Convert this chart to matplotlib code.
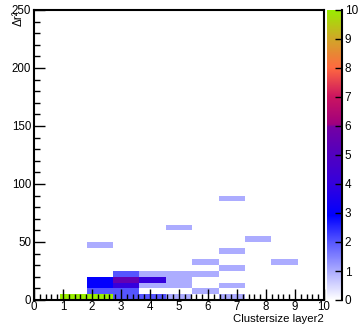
import numpy as np
import matplotlib
matplotlib.use("Agg")
import matplotlib.pyplot as plt
from matplotlib.colors import LinearSegmentedColormap
from matplotlib.ticker import MultipleLocator

plt.rcParams['font.family'] = ['Liberation Sans', 'DejaVu Sans']

# data: cluster size (layer2), delta r^2 (bin centre), entries
cluster = [1, 2, 3, 4, 5, 7,
           2, 3, 6,
           2, 3, 4, 5, 7,
           2, 3, 4, 5,
           3, 4, 5, 6,
           7,
           6, 9,
           7,
           2,
           8,
           5,
           7]
dr2 = [2.5, 2.5, 2.5, 2.5, 2.5, 2.5,
       7.5, 7.5, 7.5,
       12.5, 12.5, 12.5, 12.5, 12.5,
       17.5, 17.5, 17.5, 17.5,
       22.5, 22.5, 22.5, 22.5,
       27.5,
       32.5, 32.5,
       42.5,
       47.5,
       52.5,
       62.5,
       87.5]
counts = [10, 10, 2, 2, 1, 1,
          2, 2, 1,
          3, 4, 1, 1, 1,
          3, 5.5, 4, 1,
          2, 1, 1, 1,
          1,
          1, 1,
          1,
          1,
          1,
          1,
          1]
cbar_ticks = list(range(0, 11))

xedges = np.linspace(0, 10, 12)
yedges = np.linspace(0, 250, 51)
H, _, _ = np.histogram2d(cluster, dr2, bins=[xedges, yedges], weights=counts)
Hm = np.ma.masked_where(H.T <= 0, H.T)

cmap = LinearSegmentedColormap.from_list('rootpal', [
    (0.00, '#ffffff'),
    (0.10, '#aaaaff'),
    (0.20, '#5555ff'),
    (0.29, '#0000ff'),
    (0.40, '#3500dd'),
    (0.50, '#5200c0'),
    (0.595, '#7400a4'),
    (0.605, '#a0007e'),
    (0.70, '#cc1560'),
    (0.80, '#ff6a40'),
    (0.90, '#d0a828'),
    (1.00, '#99ee00'),
], N=256)

W, Hpx = 359, 325
fig = plt.figure(figsize=(W / 100, Hpx / 100), dpi=100)
ax = fig.add_axes([34 / W, 25 / Hpx, 290 / W, 290 / Hpx])
ax.pcolormesh(xedges, yedges, Hm, cmap=cmap, vmin=0, vmax=10)
ax.set_xlim(0, 10)
ax.set_ylim(0, 250)
for s in ax.spines.values():
    s.set_linewidth(1.5)
ax.xaxis.set_major_locator(MultipleLocator(1))
ax.xaxis.set_minor_locator(MultipleLocator(0.2))
ax.yaxis.set_major_locator(MultipleLocator(50))
ax.yaxis.set_minor_locator(MultipleLocator(10))
ax.tick_params(which='both', direction='in', top=False, right=False, width=1)
ax.tick_params(which='major', length=8, labelsize=8.3, pad=2)
ax.tick_params(axis='x', which='major', pad=1)
ax.tick_params(which='minor', length=4)
fig.text(324 / W, 0.5 / Hpx, 'Clustersize layer2', ha='right', va='bottom', fontsize=8.2)
fig.text(19 / W, 1 - 10 / Hpx, 'Δr²', rotation=90, ha='center', va='top', fontsize=8.5)

cax = fig.add_axes([327 / W, 25 / Hpx, 15 / W, 290 / Hpx])
grad = np.linspace(0, 10, 256).reshape(-1, 1)
cax.imshow(grad, aspect='auto', cmap=cmap, vmin=0, vmax=10, origin='lower',
           extent=[0, 1, 0, 10])
cax.set_xlim(0, 1)
cax.set_ylim(0, 10)
cax.set_xticks([])
for k in ['top', 'bottom', 'left']:
    cax.spines[k].set_visible(False)
cax.spines['right'].set_linewidth(1.5)
cax.yaxis.tick_right()
cax.set_yticks(cbar_ticks)
cax.tick_params(axis='y', direction='in', length=5, width=1, labelsize=8.5, pad=2)

fig.savefig('out.png', dpi=100)
